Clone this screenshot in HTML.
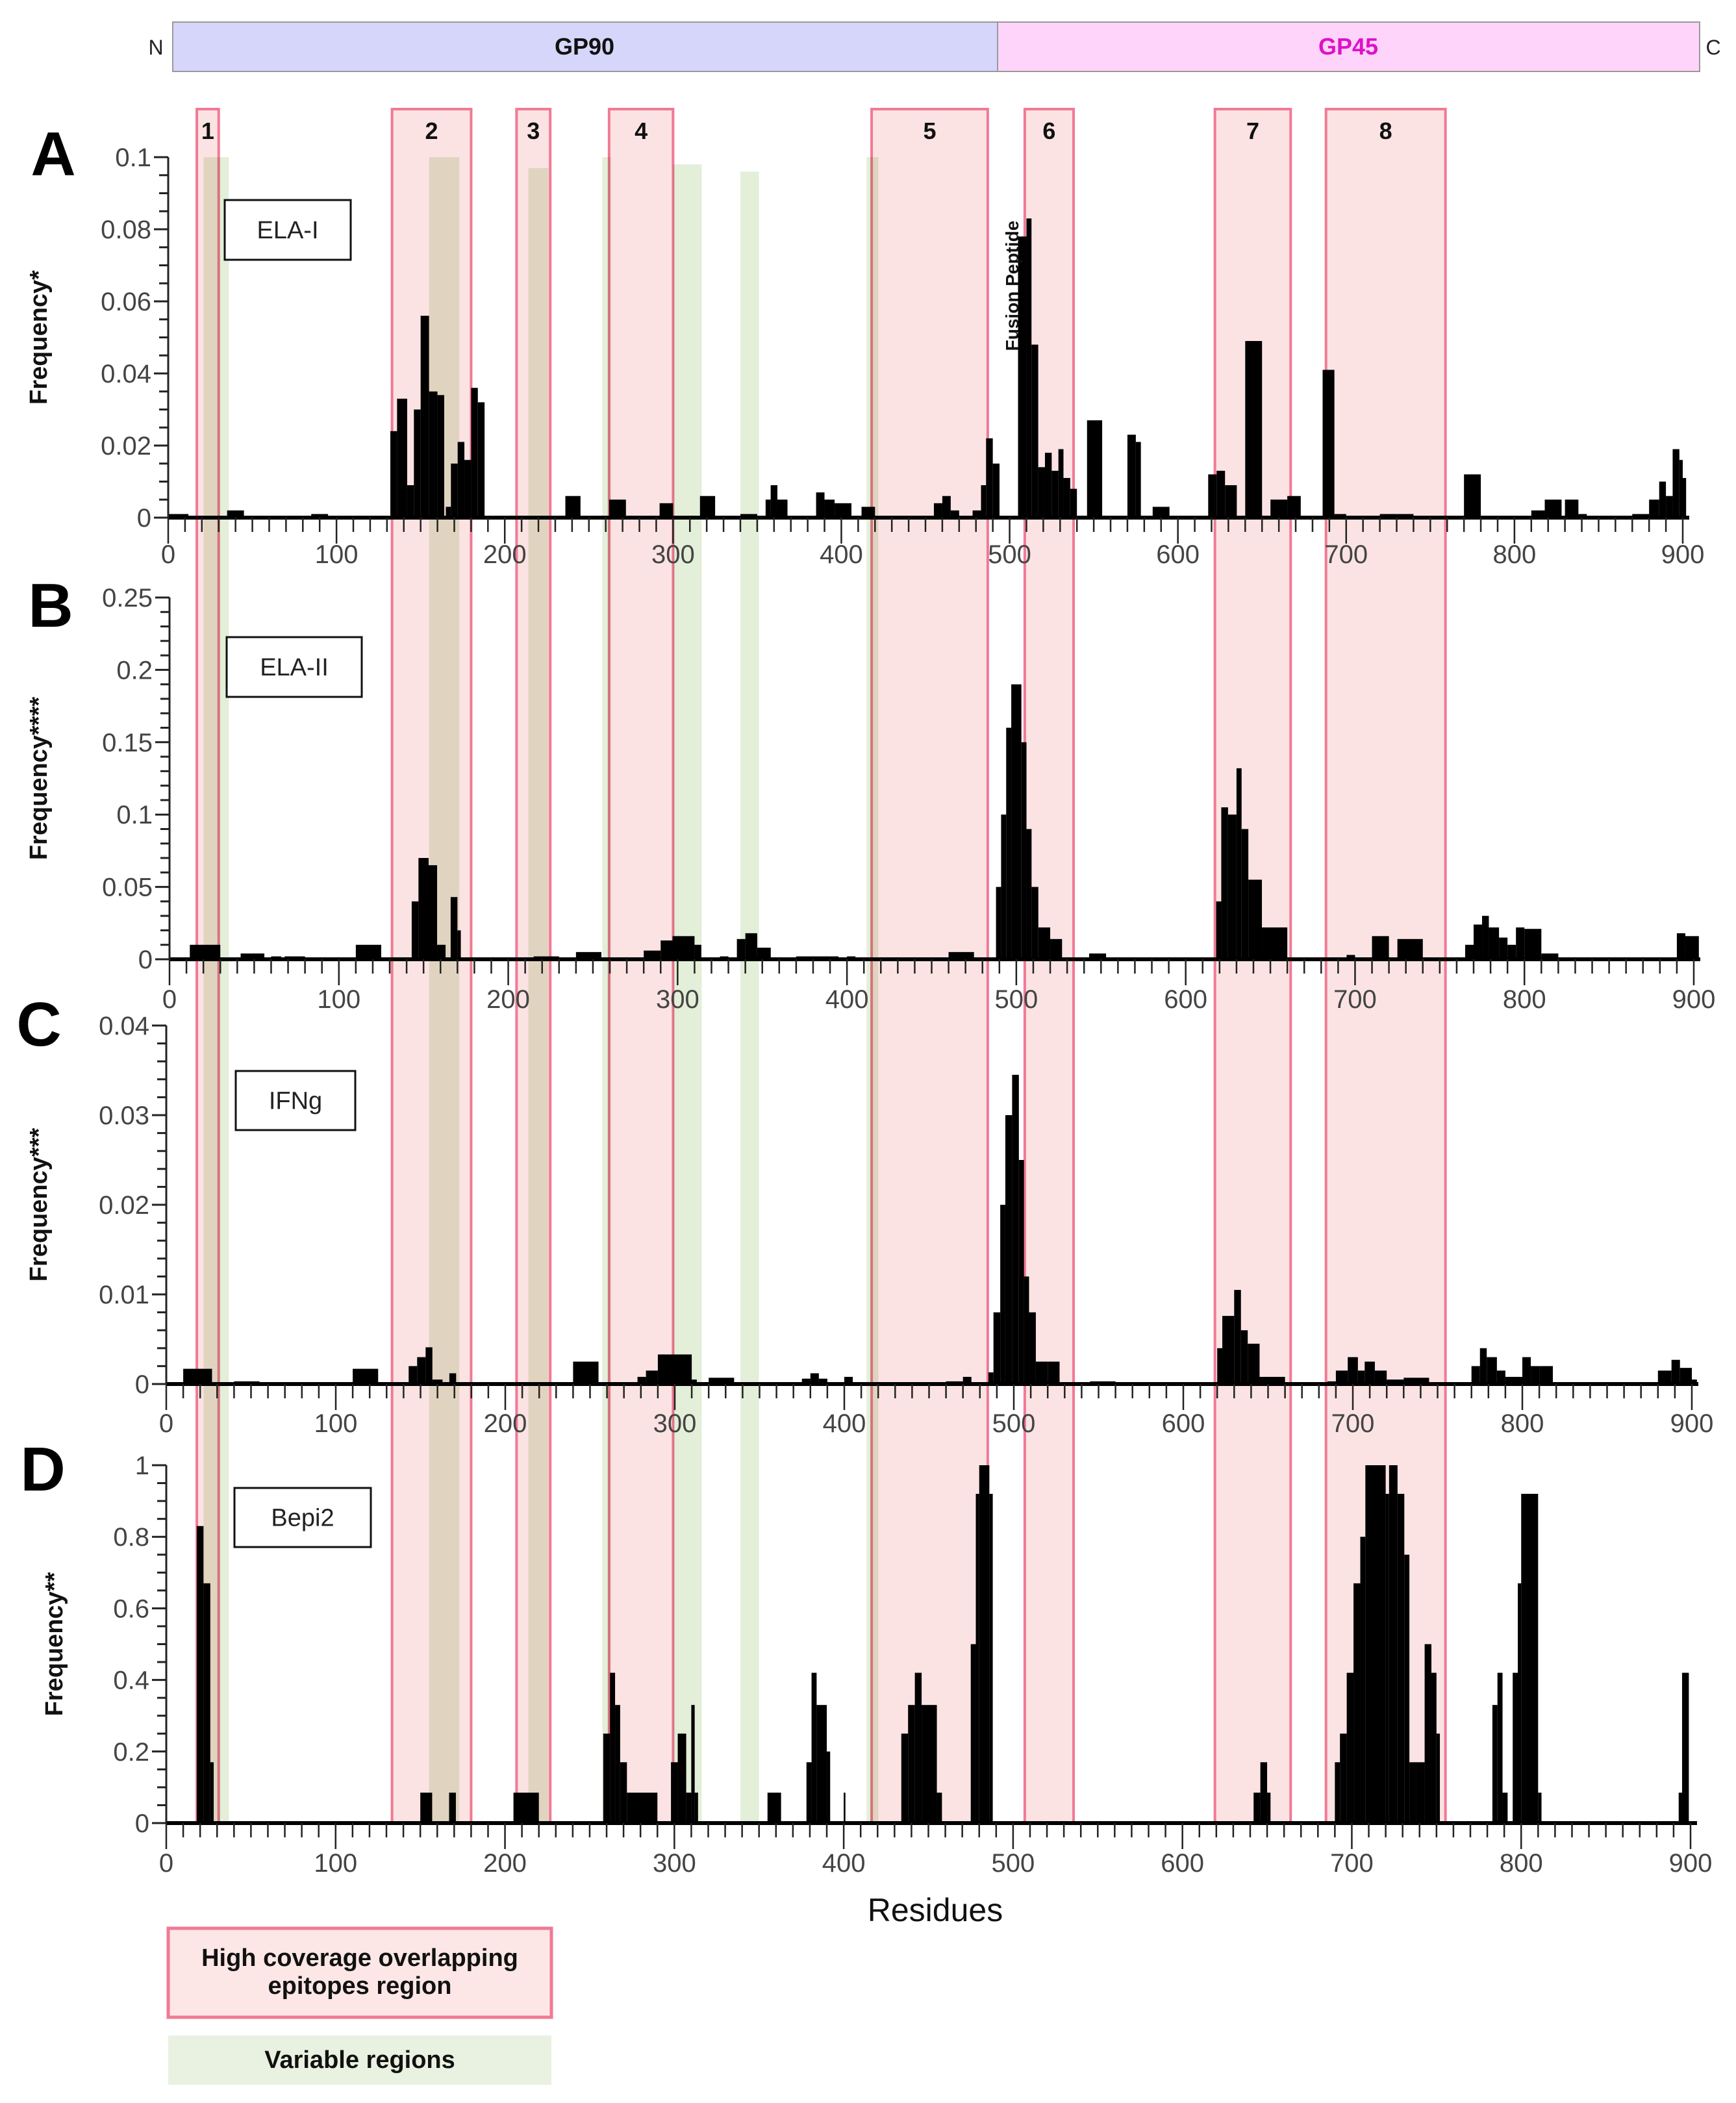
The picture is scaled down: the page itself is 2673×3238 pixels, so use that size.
<!DOCTYPE html>
<html><head><meta charset="utf-8"><style>
html,body{margin:0;padding:0;background:#fff}
svg{display:block}
text{font-family:"Liberation Sans","DejaVu Sans",sans-serif}
</style></head><body>
<svg id="fig" width="2673" height="3238" viewBox="0 0 2673 3238" xmlns="http://www.w3.org/2000/svg">
  <g>
    <rect x="266" y="34" width="1270" height="76" fill="#d6d6fb" stroke="#999" stroke-width="2"/>
    <rect x="1536" y="34" width="1081" height="76" fill="#fed4fb" stroke="#999" stroke-width="2"/>
    <text x="900" y="84" font-size="36" font-weight="bold" text-anchor="middle" fill="#111">GP90</text>
    <text x="2076" y="84" font-size="36" font-weight="bold" text-anchor="middle" fill="#e010c8">GP45</text>
    <text x="240" y="84" font-size="32" text-anchor="middle" fill="#222">N</text>
    <text x="2638" y="84" font-size="32" text-anchor="middle" fill="#222">C</text>
  </g>
  <g id="regions"></g>
  <g id="panels"></g>
  <g>
    <rect x="259" y="2969" width="590" height="137" fill="#fde6e6" stroke="#f07a94" stroke-width="5"/>
    <text x="554" y="3027" font-size="38" font-weight="bold" text-anchor="middle" fill="#111">High coverage overlapping</text>
    <text x="554" y="3070" font-size="38" font-weight="bold" text-anchor="middle" fill="#111">epitopes region</text>
    <rect x="259" y="3134" width="590" height="76" fill="#e9f1e0"/>
    <text x="554" y="3184" font-size="38" font-weight="bold" text-anchor="middle" fill="#111">Variable regions</text>
  </g>
  <text x="1440" y="2958" font-size="50" text-anchor="middle" fill="#111">Residues</text>
</svg>
<script>
const pinkStart=[17,133,207,262,418,509,622,688];
const pinkEnd=[30,180,227,300,487,538,667,759];
const pinkLabels=["1","2","3","4","5","6","7","8"];
const greenStart=[21,155,214,258,300,340,415];
const greenEnd=[36,173,226,263,317,351,422];
const greenTopVal=[0.1,0.1,0.097,0.1,0.098,0.096,0.1];

const aStart=[0,35,85,132,136,142,146,150,155,160,165,168,172,176,180,184,236,262,292,316,340,355,358,362,385,390,396,412,455,460,465,478,483,486,490,505,510,513,517,521,525,529,532,536,546,570,575,585,618,623,628,640,655,665,686,693,720,770,810,818,830,838,870,880,886,890,894,898,900];
const aEnd=[12,45,95,136,142,146,150,155,160,164,168,172,176,180,184,188,245,272,300,325,350,358,362,368,390,396,406,420,460,465,470,483,486,490,494,510,513,517,521,525,529,532,536,540,555,575,578,595,623,628,635,650,665,673,693,700,740,780,818,828,838,843,880,886,890,894,898,900,902];
const aVal=[0.001,0.002,0.001,0.024,0.033,0.009,0.030,0.056,0.035,0.034,0.003,0.015,0.021,0.016,0.036,0.032,0.006,0.005,0.004,0.006,0.001,0.005,0.009,0.005,0.007,0.005,0.004,0.003,0.004,0.006,0.002,0.002,0.009,0.022,0.015,0.078,0.083,0.048,0.014,0.018,0.013,0.019,0.011,0.008,0.027,0.023,0.021,0.003,0.012,0.013,0.009,0.049,0.005,0.006,0.041,0.001,0.001,0.012,0.002,0.005,0.005,0.001,0.001,0.005,0.010,0.006,0.019,0.016,0.011];
const aTicks=["0","0.02","0.04","0.06","0.08","0.1"];

const bStart=[12,42,60,68,110,143,147,153,158,166,170,188,215,240,280,290,297,310,325,335,340,347,370,400,420,460,488,491,494,497,503,506,509,513,520,543,618,621,625,630,633,637,645,690,695,710,725,765,770,775,779,785,790,795,800,810,890,895];
const bEnd=[30,56,66,80,125,147,153,158,163,170,172,192,230,255,290,297,310,314,330,340,347,355,395,405,430,475,491,494,497,503,506,509,513,520,527,553,621,625,630,633,637,645,660,695,700,720,740,770,775,779,785,790,795,800,810,820,895,903];
const bVal=[0.010,0.004,0.002,0.002,0.010,0.040,0.070,0.065,0.010,0.043,0.020,0.001,0.002,0.005,0.006,0.013,0.016,0.010,0.002,0.014,0.018,0.008,0.002,0.002,0.001,0.005,0.050,0.100,0.160,0.190,0.150,0.090,0.050,0.022,0.014,0.004,0.040,0.105,0.100,0.132,0.090,0.055,0.022,0.001,0.003,0.016,0.014,0.010,0.024,0.030,0.022,0.015,0.010,0.022,0.021,0.004,0.018,0.016];
const bTicks=["0","0.05","0.1","0.15","0.2","0.25"];

const cStart=[10,40,110,143,148,153,157,167,240,278,283,290,300,310,320,340,375,380,385,400,460,470,485,488,492,495,499,503,506,509,513,520,545,620,623,630,634,638,645,685,690,697,703,707,713,720,730,770,775,779,785,790,800,805,810,880,888,893,900];
const cEnd=[27,55,125,148,153,157,163,171,255,283,290,300,310,313,335,350,380,385,390,405,470,475,488,492,495,499,503,506,509,513,520,527,560,623,630,634,638,645,660,690,697,703,707,713,720,730,745,775,779,785,790,800,805,810,818,888,893,900,903];
const cVal=[0.0017,0.0003,0.0017,0.002,0.003,0.0041,0.0005,0.0012,0.0025,0.0008,0.0015,0.0033,0.0033,0.0005,0.0007,0.0002,0.0006,0.0012,0.0006,0.0008,0.0003,0.0008,0.0013,0.008,0.02,0.03,0.0345,0.025,0.012,0.008,0.0025,0.0025,0.0003,0.004,0.0076,0.0105,0.006,0.0045,0.0008,0.0003,0.0015,0.003,0.0015,0.0025,0.0015,0.0005,0.0007,0.002,0.004,0.003,0.0015,0.0008,0.003,0.002,0.002,0.0015,0.0027,0.0018,0.0005];
const cTicks=["0","0.01","0.02","0.03","0.04"];

const dStart=[18,22,26,150,167,205,258,262,265,268,272,298,302,307,310,312,355,378,381,384,390,400,434,438,442,446,450,455,475,478,480,486,642,646,650,690,693,697,701,705,708,720,722,727,731,734,738,743,747,750,783,786,789,795,798,800,810,893,895];
const dEnd=[22,26,28,157,171,220,262,265,268,272,290,302,307,310,312,314,363,381,384,390,392,401,438,442,446,450,455,458,478,480,486,488,646,650,652,693,697,701,705,708,720,722,727,731,734,738,743,747,750,752,786,789,792,798,800,810,812,895,899];
const dVal=[0.83,0.67,0.17,0.085,0.085,0.085,0.25,0.42,0.33,0.17,0.085,0.17,0.25,0.085,0.33,0.085,0.085,0.17,0.42,0.33,0.2,0.085,0.25,0.33,0.42,0.33,0.33,0.085,0.5,0.92,1.0,0.92,0.085,0.17,0.085,0.17,0.25,0.42,0.67,0.8,1.0,0.92,1.0,0.92,0.75,0.17,0.17,0.5,0.42,0.25,0.33,0.42,0.085,0.42,0.67,0.92,0.085,0.085,0.42];
const dTicks=["0","0.2","0.4","0.6","0.8","1"];

const xTickLabels=["0","100","200","300","400","500","600","700","800","900"];

const NS="http://www.w3.org/2000/svg";
function mk(tag,attrs,parent){const e=document.createElementNS(NS,tag);for(const k in attrs)e.setAttribute(k,attrs[k]);parent.appendChild(e);return e;}

const ovX0=259,ovX1=2591;
function ovX(r){return ovX0+(ovX1-ovX0)*r/900;}
const regionsG=document.getElementById('regions');
const ovTop=168,ovBottom=2807;
for(let i=0;i<greenStart.length;i++){
  const top=797-(797-242)*greenTopVal[i]/0.1;
  const g=mk('rect',{x:ovX(greenStart[i]),y:top,width:ovX(greenEnd[i])-ovX(greenStart[i]),height:ovBottom-top,fill:'#e3efd8'},regionsG);
  
  
}
for(let i=0;i<pinkStart.length;i++){
  const r=mk('rect',{x:ovX(pinkStart[i]),y:ovTop,width:ovX(pinkEnd[i])-ovX(pinkStart[i]),height:ovBottom-ovTop,fill:'#fce3e3',stroke:'#f07a94','stroke-width':4,style:'mix-blend-mode:multiply'},regionsG);
  
  
  const t=mk('text',{x:(ovX(pinkStart[i])+ovX(pinkEnd[i]))/2,y:214,'font-size':36,'font-weight':'bold','text-anchor':'middle',fill:'#111'},regionsG);
  t.textContent=pinkLabels[i];
  
  
}

const panels=[
 {id:'a',letter:'A',label:'ELA-I',ylab:'Frequency*',s:aStart,e:aEnd,v:aVal,ticks:aTicks,max:0.1,minorDiv:4,x0:259,x1:2591,y0:797,y1:242,box:[346,308,194,92],letterPos:[82,270],ylabX:72,tickLabY:867},
 {id:'b',letter:'B',label:'ELA-II',ylab:'Frequency****',s:bStart,e:bEnd,v:bVal,ticks:bTicks,max:0.25,minorDiv:5,x0:261,x1:2608,y0:1477,y1:920,box:[349,981,208,92],letterPos:[78,965],ylabX:72,tickLabY:1552},
 {id:'c',letter:'C',label:'IFNg',ylab:'Frequency***',s:cStart,e:cEnd,v:cVal,ticks:cTicks,max:0.04,minorDiv:5,x0:256,x1:2605,y0:2131,y1:1579,box:[363,1649,184,91],letterPos:[60,1610],ylabX:72,tickLabY:2205},
 {id:'d',letter:'D',label:'Bepi2',ylab:'Frequency**',s:dStart,e:dEnd,v:dVal,ticks:dTicks,max:1,minorDiv:4,x0:256,x1:2603,y0:2807,y1:2256,box:[361,2291,210,91],letterPos:[66,2295],ylabX:96,tickLabY:2882}
];
const panelsG=document.getElementById('panels');
panels.forEach(p=>{
  const g=mk('g',{},panelsG);
  
  
  const X=r=>p.x0+(p.x1-p.x0)*r/900;
  const Y=v=>p.y0-(p.y0-p.y1)*v/p.max;
  const barsG=mk('g',{},g);
  
  
  for(let i=0;i<p.s.length;i++){
    const b=mk('rect',{x:X(p.s[i]),y:Y(p.v[i]),width:Math.max(2,X(p.e[i])-X(p.s[i])),height:p.y0-Y(p.v[i]),fill:'#000'},barsG);
    
    
  }
  const bl=mk('line',{x1:p.x0,y1:p.y0,x2:p.x1+10,y2:p.y0,stroke:'#000','stroke-width':6},g);
  
  
  for(let r=0;r<=900;r+=10){
    const major=r%100===0;
    const t=mk('line',{x1:X(r),y1:p.y0,x2:X(r),y2:p.y0+(major?40:22),stroke:'#222','stroke-width':2.5},g);
    
    
  }
  xTickLabels.forEach((lab,i)=>{
    const t=mk('text',{x:X(+lab),y:p.tickLabY,'font-size':40,'text-anchor':'middle',fill:'#444'},g);
    t.textContent=lab;
    
    
  });
  const ya=mk('line',{x1:p.x0,y1:p.y1,x2:p.x0,y2:p.y0,stroke:'#222','stroke-width':3},g);
  
  
  const n=p.ticks.length-1;
  for(let i=0;i<=n*p.minorDiv;i++){
    const v=p.max*i/(n*p.minorDiv);
    const major=i%p.minorDiv===0;
    const t=mk('line',{x1:p.x0-(major?22:14),y1:Y(v),x2:p.x0,y2:Y(v),stroke:'#222','stroke-width':3},g);
    
    
  }
  p.ticks.forEach((lab,i)=>{
    const t=mk('text',{x:p.x0-26,y:Y(p.max*i/n)+14,'font-size':40,'text-anchor':'end',fill:'#444'},g);
    t.textContent=lab;
    
    
  });
  const yl=mk('text',{x:p.ylabX,y:(p.y0+p.y1)/2,'font-size':38,'font-weight':'bold','text-anchor':'middle',fill:'#111',transform:`rotate(-90 ${p.ylabX} ${(p.y0+p.y1)/2})`},g);
  yl.textContent=p.ylab;
  
  
  const lt=mk('text',{x:p.letterPos[0],y:p.letterPos[1],'font-size':96,'font-weight':'bold','text-anchor':'middle',fill:'#000'},g);
  lt.textContent=p.letter;
  
  
  const bx=mk('rect',{x:p.box[0],y:p.box[1],width:p.box[2],height:p.box[3],fill:'#fff',stroke:'#111','stroke-width':3},g);
  
  
  const bt=mk('text',{x:p.box[0]+p.box[2]/2,y:p.box[1]+p.box[3]/2+13,'font-size':38,'text-anchor':'middle',fill:'#222','font-family':'Liberation Serif, serif'},g);
  bt.textContent=p.label;
  
  
});
const fp=mk('text',{x:1568,y:440,'font-size':28,'font-weight':'bold','text-anchor':'middle',fill:'#111',transform:'rotate(-90 1568 440)'},document.getElementById('panels'));
fp.textContent='Fusion Peptide';


</script>
</body></html>
